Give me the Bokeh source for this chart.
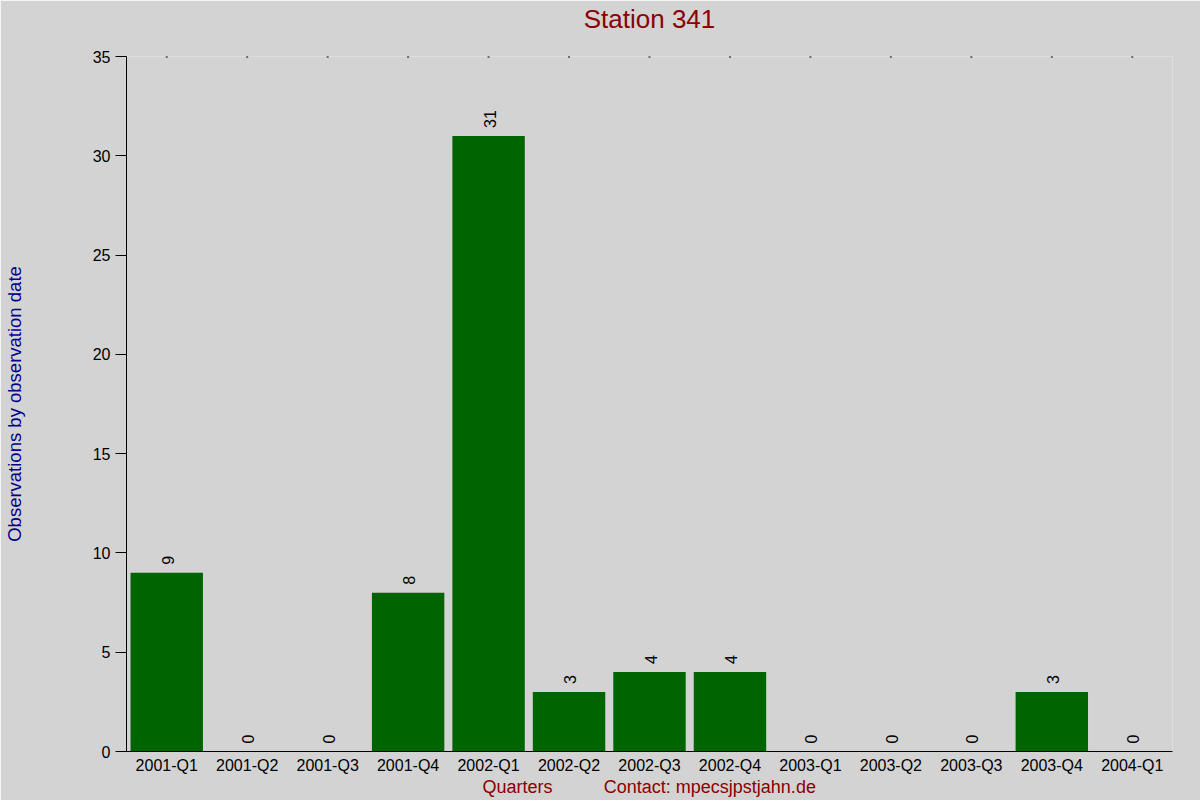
import math
from bokeh.plotting import figure
from bokeh.models import Range1d, FixedTicker, ColumnDataSource, LinearAxis
from bokeh.core.properties import value
from bokeh.embed import file_html
from bokeh.resources import INLINE

# ---- data ----
quarters = ["2001-Q1", "2001-Q2", "2001-Q3", "2001-Q4",
            "2002-Q1", "2002-Q2", "2002-Q3", "2002-Q4",
            "2003-Q1", "2003-Q2", "2003-Q3", "2003-Q4", "2004-Q1"]
counts = [9, 0, 0, 8, 31, 3, 4, 4, 0, 0, 0, 3, 0]
y_ticks = [0, 5, 10, 15, 20, 25, 30, 35]
title_text = "Station 341"
y_label = "Observations by observation date"
x_label = "Quarters"
contact_text = "Contact: mpecsjpstjahn.de"

FONT = "Liberation Sans"
BG = "#D3D3D3"
BAR = "#006400"
RED = "#8B0000"
BLUE = "#00008B"

# category slots: one unit per quarter, bars centred in their slot
xs = [i + 0.5 for i in range(len(quarters))]
src = ColumnDataSource(dict(x=xs, q=quarters, n=counts, lbl=[str(c) for c in counts]))

p = figure(x_range=Range1d(0, len(quarters)),
           y_range=Range1d(y_ticks[0], y_ticks[-1]),
           width=1200, height=800,
           min_border_left=126, min_border_right=28,
           min_border_top=56, min_border_bottom=49,
           output_backend="svg", toolbar_location=None,
           title=None)

p.background_fill_color = BG
p.border_fill_color = BG
p.outline_line_color = None
p.xgrid.grid_line_color = None
p.ygrid.grid_line_color = None

p.vbar(x="x", top="n", width=0.9, source=src, fill_color=BAR, line_color=None)

p.text(x="x", y="n", text="lbl", source=src, angle=math.pi / 2,
       text_align="left", text_baseline="middle", y_offset=-8, x_offset=1,
       text_font=value(FONT), text_font_size="16px", text_color="black")

# small tick dots along the top edge, one per quarter
p.scatter(x=xs, y=[y_ticks[-1]] * len(quarters), marker="square", size=2,
          fill_color="black", line_color=None)

# y axis
ya = p.yaxis[0]
ya.ticker = FixedTicker(ticks=y_ticks)
ya.major_tick_out = 11
ya.major_tick_in = 0
ya.minor_tick_out = 0
ya.minor_tick_in = 0
ya.major_label_standoff = 5
ya.axis_line_color = "black"
ya.major_tick_line_color = "black"
ya.major_label_text_font = FONT
ya.major_label_text_font_size = "16px"
ya.major_label_text_color = "black"
ya.axis_label = y_label
ya.axis_label_text_font = FONT
ya.axis_label_text_font_size = "18.5px"
ya.axis_label_text_font_style = "normal"
ya.axis_label_text_color = BLUE
ya.axis_label_standoff = 65

# x axis: quarter names at slot centres
xa = p.xaxis[0]
xa.ticker = FixedTicker(ticks=xs, minor_ticks=[])
xa.major_label_overrides = {x: q for x, q in zip(xs, quarters)}
xa.major_tick_out = 0
xa.major_tick_in = 0
xa.minor_tick_out = 0
xa.minor_tick_in = 0
xa.major_label_standoff = 5
xa.axis_line_color = "black"
xa.major_label_text_font = FONT
xa.major_label_text_font_size = "16px"
xa.major_label_text_color = "black"

# bottom caption line ("Quarters" and contact), drawn as a label-only axis
cap = LinearAxis(ticker=FixedTicker(ticks=[4.86, 7.25], minor_ticks=[]),
                 major_label_overrides={4.86: x_label, 7.25: contact_text},
                 axis_line_color=None, major_tick_out=0, major_tick_in=0,
                 minor_tick_out=0, minor_tick_in=0, major_label_standoff=0,
                 major_label_text_font=FONT, major_label_text_font_size="18px",
                 major_label_text_color=RED)
p.add_layout(cap, "below")

# chart title, centred over the plot area, drawn as a label-only axis above
mid = len(quarters) / 2
ttl = LinearAxis(ticker=FixedTicker(ticks=[mid], minor_ticks=[]),
                 major_label_overrides={mid: title_text},
                 axis_line_color=None, major_tick_out=0, major_tick_in=0,
                 minor_tick_out=0, minor_tick_in=0, major_label_standoff=23,
                 major_label_text_font=FONT, major_label_text_font_size="26px",
                 major_label_text_color=RED)
p.add_layout(ttl, "above")

open("out.html", "w").write(file_html(p, INLINE))
